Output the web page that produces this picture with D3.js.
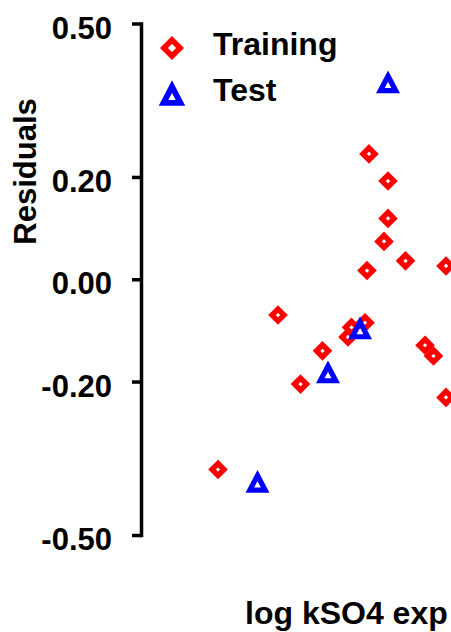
<!DOCTYPE html>
<html>
<head>
<meta charset="utf-8">
<script src="https://cdn.jsdelivr.net/npm/d3@7"></script>
<style>
  html, body { margin: 0; padding: 0; background: #fff; }
  svg { display: block; }
  text { font-family: "Liberation Sans", Arial, Helvetica, sans-serif; font-weight: bold; fill: #000; }
</style>
</head>
<body>
<svg id="chart" width="451" height="632"></svg>
<script>
// Residuals of log kSO4 predictions, training vs. test compounds
const trainingX = [2.28, 2.47, 2.47, 2.43, 2.645, 2.26, 3.05, 1.37, 1.815, 2.24, 2.105, 2.07, 2.84, 2.925, 3.05, 1.595, 0.77];
const trainingY = [0.245, 0.192, 0.119, 0.074, 0.036, 0.017, 0.026, -0.070, -0.140, -0.085, -0.094, -0.113, -0.129, -0.150, -0.231, -0.205, -0.372];
const testX = [2.47, 2.19, 1.87, 1.165];
const testY = [0.386, -0.095, -0.181, -0.395];
const yTicks = [0.5, 0.2, 0, -0.2, -0.5];
const yTickLabels = ["0.50", "0.20", "0.00", "-0.20", "-0.50"];
const seriesNames = ["Training", "Test"];
const seriesColors = ["#ff0000", "#0000ff"];

const svg = d3.select("#chart");

const x = d3.scaleLinear().domain([0, 4]).range([141, 541]);
const y = d3.scaleLinear().domain([-0.5, 0.5]).range([535, 23.5]);

// marker outlines (open diamond and open triangle, heavy stroke)
const diamondPath = s => `M0,${-6 * s}L${6 * s},0L0,${6 * s}L${-6 * s},0Z`;
const trianglePath = s => `M0,${-5.8 * s}L${7.7 * s},${8.9 * s}L${-7.7 * s},${8.9 * s}Z`;

// y axis
const yAxis = d3.axisLeft(y)
  .tickValues(yTicks)
  .tickFormat((d, i) => yTickLabels[i])
  .tickSize(9)
  .tickSizeOuter(0)
  .tickPadding(20);

const gy = svg.append("g").attr("transform", "translate(141,0)").call(yAxis);
gy.select(".domain").attr("stroke", "#000").attr("stroke-width", 3.5).attr("stroke-linecap", "square");
gy.selectAll(".tick line").attr("stroke", "#000").attr("stroke-width", 3.5);
gy.selectAll(".tick text")
  .attr("dy", 14.5)
  .style("font-size", "31px")
  .style("font-weight", "bold")
  .style("font-family", "'Liberation Sans', Arial, sans-serif")
  .attr("fill", "#000");

// axis titles
svg.append("text")
  .attr("transform", "translate(36,171.5) rotate(-90)")
  .attr("text-anchor", "middle")
  .style("font-size", "31px")
  .text("Residuals");

svg.append("text")
  .attr("x", 245)
  .attr("y", 624)
  .style("font-size", "32px")
  .text("log kSO4 exp");

// training points
svg.append("g")
  .selectAll("path")
  .data(trainingX.map((v, i) => [v, trainingY[i]]))
  .join("path")
  .attr("transform", d => `translate(${x(d[0])},${y(d[1])})`)
  .attr("d", diamondPath(1))
  .attr("fill", "none")
  .attr("stroke", seriesColors[0])
  .attr("stroke-width", 5.4)
  .attr("stroke-linejoin", "miter");

// test points
svg.append("g")
  .selectAll("path")
  .data(testX.map((v, i) => [v, testY[i]]))
  .join("path")
  .attr("transform", d => `translate(${x(d[0])},${y(d[1])})`)
  .attr("d", trianglePath(1))
  .attr("fill", "none")
  .attr("stroke", seriesColors[1])
  .attr("stroke-width", 5.2)
  .attr("stroke-linejoin", "miter");

// legend
const legend = svg.append("g");
const legendRows = [
  { name: seriesNames[0], color: seriesColors[0], path: diamondPath(1.35), sw: 5.6, cy: 48, ty: 55 },
  { name: seriesNames[1], color: seriesColors[1], path: trianglePath(1.1), sw: 5.8, cy: 93, ty: 101 }
];
legendRows.forEach(r => {
  legend.append("path")
    .attr("transform", `translate(172,${r.cy})`)
    .attr("d", r.path)
    .attr("fill", "none")
    .attr("stroke", r.color)
    .attr("stroke-width", r.sw)
    .attr("stroke-linejoin", "miter");
  legend.append("text")
    .attr("x", 213)
    .attr("y", r.ty)
    .style("font-size", "32px")
    .text(r.name);
});
</script>
</body>
</html>
